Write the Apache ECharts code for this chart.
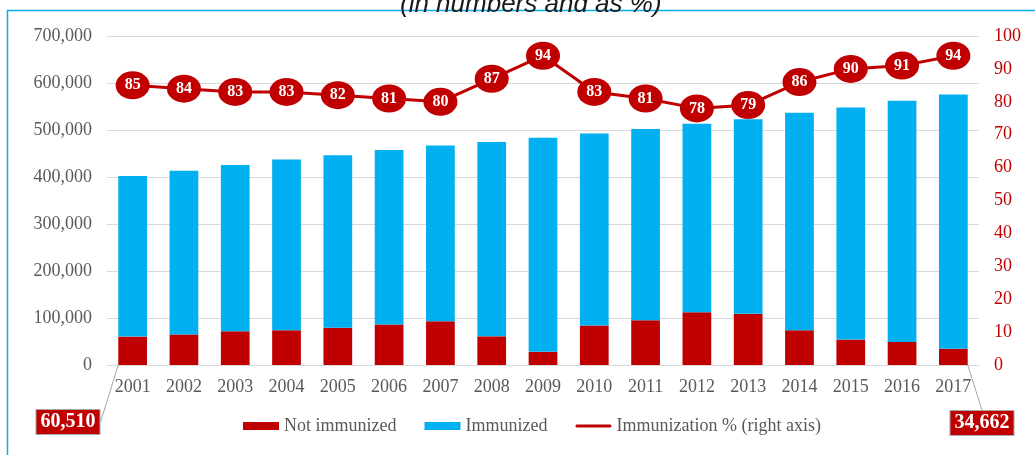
<!DOCTYPE html>
<html>
<head>
<meta charset="utf-8">
<script src="https://cdn.jsdelivr.net/npm/echarts@6/dist/echarts.min.js"></script>
<style>
html,body{margin:0;padding:0;background:#fff;}
#chart{width:1035px;height:455px;}
</style>
</head>
<body>
<div id="chart"></div>
<script>
const years = ['2001','2002','2003','2004','2005','2006','2007','2008','2009','2010','2011','2012','2013','2014','2015','2016','2017'];
const notImmunized = [60510, 65000, 72000, 74000, 79000, 86000, 93000, 61000, 28000, 84000, 95000, 112000, 109000, 74000, 54000, 49000, 34662];
const immunized = [341500, 348500, 353500, 363000, 367500, 371500, 374000, 413500, 455500, 408500, 407000, 401500, 414000, 462500, 494000, 513000, 540838];
const immunizationPct = [85, 84, 83, 83, 82, 81, 80, 87, 94, 83, 81, 78, 79, 86, 90, 91, 94];
const leftTicks = [0, 100000, 200000, 300000, 400000, 500000, 600000, 700000];
const rightTicks = [0, 10, 20, 30, 40, 50, 60, 70, 80, 90, 100];
const calloutIdx = [0, notImmunized.length - 1];

const RED = '#C00000';
const BLUE = '#00B0F0';
const GREY = '#595959';
const SERIF = '"Liberation Serif", "DejaVu Serif", serif';

const chart = echarts.init(document.getElementById('chart'));
const fmt = v => v.toLocaleString('en-US');

chart.setOption({
  animation: false,
  title: {
    text: '(in numbers and as %)',
    left: 395,
    top: -13,
    textStyle: {fontFamily: '"Liberation Sans", Arial, sans-serif', fontStyle: 'italic', fontWeight: 'normal', fontSize: 26, color: '#1a1a1a'}
  },
  graphic: [{
    type: 'rect',
    shape: {x: 7.5, y: 10.5, width: 1200, height: 600},
    style: {fill: 'none', stroke: BLUE, lineWidth: 1.5},
    silent: true, z: -10
  }],
  grid: {left: 107, right: 56, top: 36, bottom: 90},
  legend: {
    left: 238,
    top: 412,
    itemWidth: 36,
    itemHeight: 8,
    itemGap: 28,
    textStyle: {fontFamily: SERIF, fontSize: 18, color: GREY},
    data: [
      {name: 'Not immunized', icon: 'rect'},
      {name: 'Immunized', icon: 'rect'},
      {name: 'Immunization % (right axis)', icon: 'path://M1.5,0 H36.5 A1.5,1.5 0 0 1 36.5,3 H1.5 A1.5,1.5 0 0 1 1.5,0 Z'}
    ]
  },
  xAxis: {
    type: 'category',
    data: years,
    axisLine: {lineStyle: {color: '#D9D9D9', width: 1}},
    axisTick: {show: false},
    axisLabel: {fontFamily: SERIF, fontSize: 18, color: GREY, margin: 13}
  },
  yAxis: [{
    type: 'value',
    min: leftTicks[0],
    max: leftTicks[leftTicks.length - 1],
    interval: leftTicks[1] - leftTicks[0],
    axisLine: {show: false},
    axisTick: {show: false},
    splitLine: {lineStyle: {color: '#D9D9D9', width: 1}},
    axisLabel: {fontFamily: SERIF, fontSize: 18, color: GREY, margin: 15, formatter: v => fmt(v)}
  }, {
    type: 'value',
    position: 'right',
    min: rightTicks[0],
    max: rightTicks[rightTicks.length - 1],
    interval: rightTicks[1] - rightTicks[0],
    axisLine: {show: false},
    axisTick: {show: false},
    splitLine: {show: false},
    axisLabel: {fontFamily: SERIF, fontSize: 18, color: RED, margin: 15}
  }],
  series: [{
    name: 'Not immunized',
    type: 'bar',
    stack: 'total',
    barWidth: '56%',
    itemStyle: {color: RED},
    data: notImmunized.map((v, i) => calloutIdx.includes(i) ? {
      value: v,
      label: {
        show: true,
        formatter: p => fmt(p.value),
        fontFamily: SERIF, fontSize: 20, fontWeight: 'bold', color: '#fff',
        backgroundColor: RED, borderColor: '#A6A6A6', borderWidth: 1,
        padding: [3, 4, 1, 4]
      }
    } : v),
    labelLine: {show: true, lineStyle: {color: '#A6A6A6', width: 1}},
    labelLayout: p => {
      if (p.dataIndex === calloutIdx[0]) return {x: 68, y: 422, align: 'center', verticalAlign: 'middle'};
      if (p.dataIndex === calloutIdx[1]) return {x: 982, y: 423, align: 'center', verticalAlign: 'middle'};
      return {};
    }
  }, {
    name: 'Immunized',
    type: 'bar',
    stack: 'total',
    barWidth: '56%',
    itemStyle: {color: BLUE},
    data: immunized
  }, {
    name: 'Immunization % (right axis)',
    type: 'line',
    yAxisIndex: 1,
    data: immunizationPct,
    z: 5,
    symbol: 'circle',
    symbolSize: [34, 28],
    itemStyle: {color: RED},
    lineStyle: {color: RED, width: 3},
    label: {
      show: true,
      position: 'inside',
      fontFamily: SERIF, fontSize: 16, fontWeight: 'bold', color: '#fff'
    }
  }]
});
</script>
</body>
</html>
